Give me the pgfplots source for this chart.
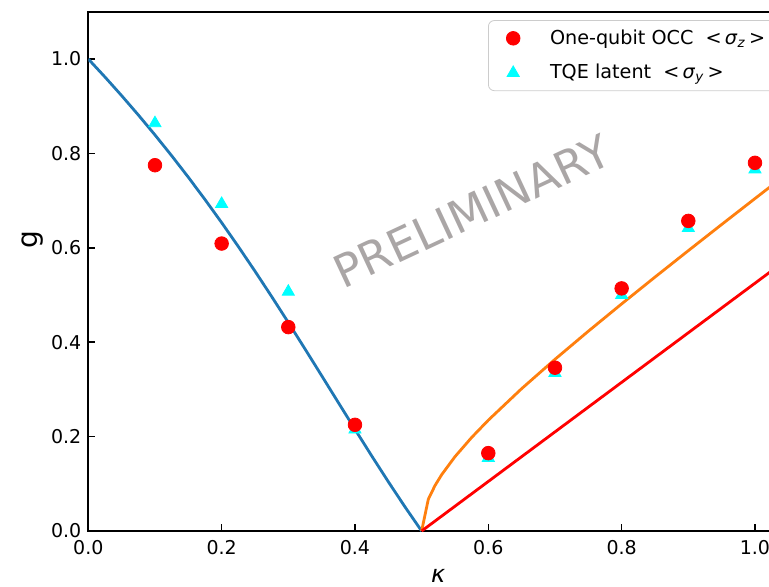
\documentclass[border=0pt]{standalone}
\usepackage{fontspec}
\setmainfont{DejaVu Sans}
\usepackage{pgfplots}
\pgfplotsset{compat=1.18}
\definecolor{mplblue}{HTML}{1F77B4}
\definecolor{mplorange}{HTML}{FF7F0E}
\definecolor{mplred}{RGB}{255,0,0}
\definecolor{mplcyan}{RGB}{0,255,255}
\definecolor{wm}{RGB}{170,166,166}
\begin{document}
\begin{tikzpicture}
\begin{axis}[
  scale only axis, width=350pt, height=259.6pt,
  xmin=0, xmax=1.05, ymin=0, ymax=1.1,
  xtick={0,0.2,0.4,0.6,0.8,1.0}, ytick={0,0.2,0.4,0.6,0.8,1.0},
  /pgf/number format/assume math mode=true,
  /pgf/number format/fixed, /pgf/number format/fixed zerofill, /pgf/number format/precision=1,
  tick align=inside, xtick pos=bottom, ytick pos=left,
  major tick length=3.5pt,
  tick style={black, line width=0.8pt},
  axis line style={line width=0.9pt},
  tick label style={font=\fontsize{9.5}{11}\selectfont},
  xticklabel style={yshift=-1.2pt},
  xlabel={\textit{κ}}, ylabel={g},
  xlabel style={font=\fontsize{12}{14}\selectfont, at={(axis description cs:0.5,-0.0865)}, anchor=center, inner sep=0pt},
  ylabel style={font=\fontsize{14}{16}\selectfont, at={(axis description cs:-0.0797,0.562)}, anchor=center},
  legend style={at={(0.571,0.984)}, anchor=north west, draw=black!20, rounded corners=3pt,
    fill=white, inner xsep=9pt, inner ysep=2.5pt, row sep=4.5pt,
    font=\fontsize{9.6}{11.5}\selectfont,
    /tikz/every odd column/.append style={column sep=13pt}},
  legend cell align=left,
]
\addlegendimage{only marks, mark=*, mark size=3.4pt, draw=mplred, fill=mplred}
\addlegendentry{One-qubit OCC\ \ <\,\textit{σ}\textsubscript{\textit{z}}\,>}
\addlegendimage{only marks, mark=triangle*, mark size=3.5pt, draw=mplcyan, fill=mplcyan}
\addlegendentry{TQE latent\ \ <\,\textit{σ}\textsubscript{\textit{y}}\,>}
% Ising line
\addplot[forget plot, mplblue, line width=1.4pt] coordinates {
(0.000,1.00000) (0.025,0.96186) (0.050,0.92239) (0.075,0.88150) (0.100,0.83912)
(0.125,0.79517) (0.150,0.74958) (0.175,0.70231) (0.200,0.65336) (0.225,0.60274)
(0.250,0.55051) (0.275,0.49681) (0.300,0.44183) (0.325,0.38584) (0.350,0.32917)
(0.375,0.27223) (0.400,0.21548) (0.425,0.15939) (0.450,0.10447) (0.475,0.05118)
(0.500,0.00000)};
% KT line
\addplot[forget plot, mplorange, line width=1.4pt] coordinates {
(0.50,0.00000) (0.51,0.06723) (0.52,0.09623) (0.53,0.11926) (0.55,0.15750)
(0.575,0.19818) (0.60,0.23479) (0.65,0.30159) (0.70,0.36373) (0.75,0.42327)
(0.80,0.48117) (0.85,0.53797) (0.90,0.59397) (0.95,0.64939) (1.00,0.70436)
(1.05,0.75898) (1.10,0.81333)};
% BKT line
\addplot[forget plot, mplred, line width=1.4pt] coordinates {(0.5,0) (1.1,0.63)};
% TQE latent
\addplot[forget plot, only marks, mark=triangle*, mark size=3.5pt, draw=mplcyan, fill=mplcyan] coordinates {
(0.1,0.864) (0.2,0.693) (0.3,0.507) (0.4,0.215) (0.6,0.155) (0.7,0.335) (0.8,0.500) (0.9,0.642) (1.0,0.766)};
% One-qubit OCC
\addplot[forget plot, only marks, mark=*, mark size=3.4pt, draw=mplred, fill=mplred] coordinates {
(0.1,0.775) (0.2,0.609) (0.3,0.432) (0.4,0.225) (0.6,0.165) (0.7,0.346) (0.8,0.514) (0.9,0.657) (1.0,0.780)};
\node[text=wm, rotate=25, font=\fontsize{22.6}{26}\selectfont] at (axis cs:0.575,0.678) {PRELIMINARY};
\end{axis}
\pgfresetboundingbox
\path[use as bounding box] ([shift={(-44.15pt,-27.5pt)}]current axis.south west) rectangle ([shift={(340.35pt,265.5pt)}]current axis.south west);
\end{tikzpicture}
\end{document}
